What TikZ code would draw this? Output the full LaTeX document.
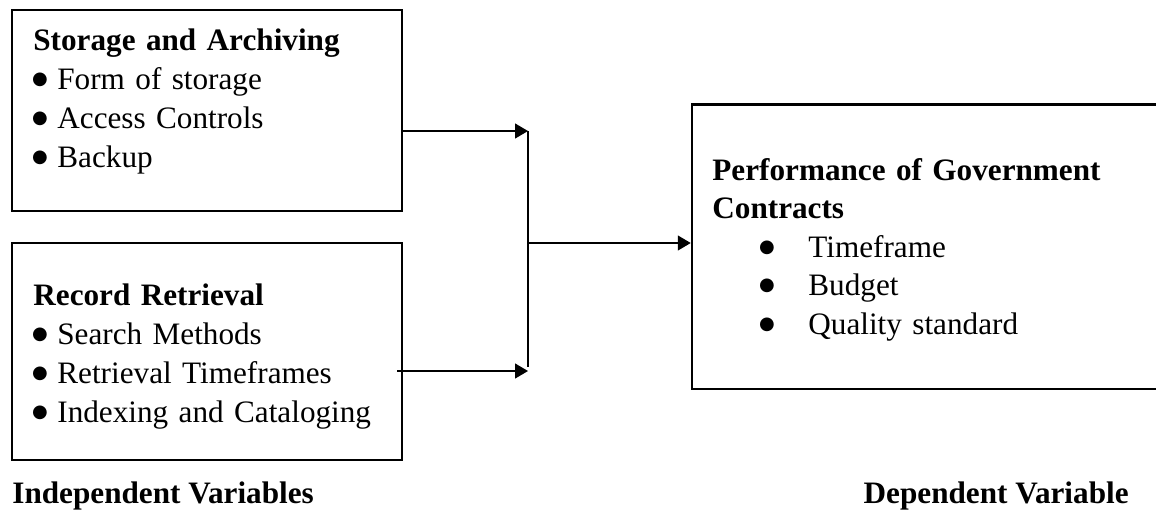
\documentclass[tikz,border=0pt]{standalone}
\usepackage{fontspec}
\setmainfont{Liberation Serif}
\newfontfamily\bulfont{DejaVu Sans}
\usetikzlibrary{arrows.meta}
\newcommand{\bigbul}{\raisebox{2.4pt}{\bulfont\fontsize{9}{9}\selectfont ●}}
\newcommand{\itm}{\hspace*{-0.6pt}\makebox[12.6pt][l]{\bigbul}}
\newcommand{\itmb}{\hspace*{23.35pt}\makebox[24.65pt][l]{\bigbul}}

\begin{document}
\begin{tikzpicture}[x=0.5pt,y=-0.5pt,
    box/.style={draw,line width=1.25pt,inner sep=0pt},
    txt/.style={anchor=base west,inner sep=0pt,text width=230pt,align=left,font=\fontsize{15.6}{19.5}\selectfont},
    lbl/.style={inner sep=0pt,font=\bfseries\fontsize{15.6}{19.5}\selectfont},
    conn/.style={line width=0.65pt,-{Triangle[length=6.5pt,width=7.5pt]}}]
            \clip (0,0) rectangle (1156,510);
            %riquadri
            \node[box,minimum width=195pt,minimum height=100.5pt] (storage) at (207,110.5) {};
            \node[box,minimum width=195pt,minimum height=108.5pt] (retrieval) at (207,351.5) {};
            \node[box,minimum width=239pt,minimum height=142.25pt] (perf) at (931,246.75) {};
            %testi
            \node[txt] (storagetxt) at (33,50) {\textbf{Storage and Archiving}\\
                \itm Form of storage\\ \itm Access Controls\\ \itm Backup};
            \node[txt] (retrievaltxt) at (33,305) {\textbf{Record Retrieval}\\
                \itm Search Methods\\ \itm Retrieval Timeframes\\ \itm Indexing and Cataloging};
            \node[txt,font=\fontsize{15.6}{19.25}\selectfont] (perftxt) at (712,180) {\textbf{Performance of Government}\\
                \textbf{Contracts}\\ \itmb Timeframe\\ \itmb Budget\\ \itmb Quality standard};
            \node[lbl,anchor=base west] (indep) at (12,503) {Independent Variables};
            \node[lbl,anchor=base east] (dep) at (1129,503) {Dependent Variable};
            %frecce
            \coordinate (top) at (528,131);
            \coordinate (mid) at (528,243);
            \coordinate (bot) at (528,371);
            \draw[conn] (storage.east |- top) -- (top);
            \draw[conn] ([xshift=-3pt]retrieval.east |- bot) -- (bot);
            \draw[line width=0.65pt] (top) -- ([yshift=2pt]bot);
            \draw[conn] (mid) -- (perf.west |- mid);
        \end{tikzpicture}
\end{document}
